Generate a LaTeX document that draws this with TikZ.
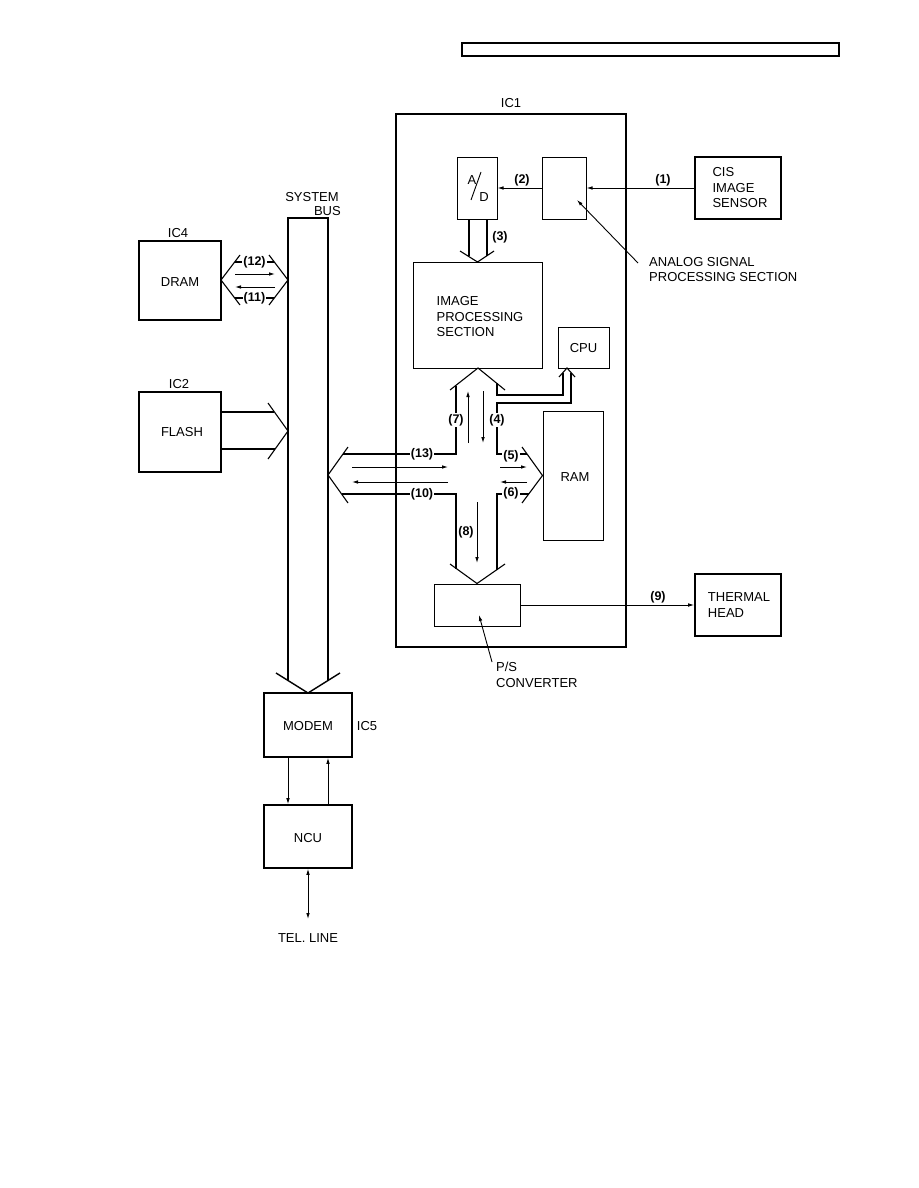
\documentclass[tikz,border=0pt]{standalone}
\usepackage{fontspec}
\setmainfont{Liberation Sans}
\usetikzlibrary{arrows.meta,calc}
\begin{document}
\begin{tikzpicture}[x=1pt,y=-1pt,
  txt/.style={font=\fontsize{13}{15.5}\selectfont, align=left, inner sep=0pt},
  outerbox/.style={draw, line width=1.6pt, minimum width=#1},
  innerbox/.style={draw, line width=1.0pt},
  busline/.style={line width=1.1pt, line join=miter},
  sig/.style={line width=0.9pt, -{Latex[length=6pt,width=3.6pt]}},
  dsig/.style={line width=0.9pt, {Latex[length=6pt,width=3.6pt]}-{Latex[length=6pt,width=3.6pt]}},
  lbl/.style={font=\bfseries\fontsize{12.5}{14}\selectfont, inner sep=1.2pt},
  wlbl/.style={lbl, fill=white}]
\useasboundingbox (0,0) rectangle (918,1188);

% header bar
\node[draw, line width=1.2pt, minimum width=377pt, minimum height=13pt, inner sep=0] (hdr) at (650.5,49.5) {};

% IC1
\node[draw, line width=1.6pt, minimum width=230pt, minimum height=533pt, inner sep=0] (ic1) at (511,380.5) {};
\node[txt] (ic1l) at (511,103) {IC1};

% inner blocks
\node[innerbox, minimum width=40pt, minimum height=62pt, inner sep=0] (ad) at (477,188) {};
\node[txt] (adA) at (472,180) {A};
\node[txt] (adD) at (484,197) {D};
\draw[line width=0.9pt] ($(ad.center)+(-6,12)$) coordinate (sl1) -- ($(ad.center)+(4,-16)$) coordinate (sl2);
\node[innerbox, minimum width=44pt, minimum height=62pt, inner sep=0] (ana) at (564,188) {};
\node[draw, line width=1.6pt, minimum width=86pt, minimum height=62pt, inner sep=0] (cis) at (738,188) {};
\node[txt] (cist) at (740,188) {CIS\\IMAGE\\SENSOR};

\node[innerbox, minimum width=129pt, minimum height=106pt, inner sep=0] (ips) at (477.5,315) {};
\node[txt] (ipst) at (480,317) {IMAGE\\PROCESSING\\SECTION};
\node[innerbox, minimum width=51pt, minimum height=41pt, inner sep=0] (cpu) at (583.5,347.5) {};
\node[txt] (cput) at (583.5,348) {CPU};
\node[innerbox, minimum width=60pt, minimum height=129pt, inner sep=0] (ram) at (573,475.5) {};
\node[txt] (ramt) at (575,477) {RAM};
\node[innerbox, minimum width=86pt, minimum height=42pt, inner sep=0] (ps) at (477,605) {};
\node[draw, line width=1.6pt, minimum width=86pt, minimum height=62pt, inner sep=0] (th) at (738,605) {};
\node[txt] (tht) at (739,605) {THERMAL\\HEAD};

% signals (1) (2) (9)
\draw[sig] (cis.west) -- (ana.east);
\node[lbl] (l1) at (663,180) {(1)};
\draw[sig] (ana.west) -- (ad.east);
\node[lbl] (l2) at (522,180) {(2)};
\draw[sig] (ps.east) -- (th.west);
\node[lbl] (l9) at (658,597) {(9)};

% analog label + pointer
\node[txt, anchor=west] (anat) at (649,269.5) {ANALOG SIGNAL\\PROCESSING SECTION};
\coordinate (anap) at (638,263);
\draw[sig] (anap) -- ($(ana.center)+(13,12)$);
% P/S label + pointer
\node[txt, anchor=west] (pst) at (496,675) {P/S\\CONVERTER};
\coordinate (psp) at (492,662);
\draw[sig] (psp) -- ($(ps.center)+(2,10)$);

% (3) bus A/D -> IPS
\draw[busline] (469,219) -- (469,256.2);
\draw[busline] (487,219) -- (487,256.2);
\draw[busline] (460,251) -- (ips.north |- 0,262) -- (494,251);
\node[lbl] (l3) at (500,237) {(3)};

% central cross bus
\draw[busline] (450,390) -- (478,368) -- (505,390);                 % up head to IPS
\draw[busline] (559,377) -- (567,368) -- (575,377);                 % up head to CPU
\draw[busline] (497,383) -- (497,395) -- (563,395) -- (563,372.5);
\draw[busline] (571,372.5) -- (571,403) -- (497,403) -- (497,454) -- (527,454);
\draw[busline] (456,385.6) -- (456,454) -- (343,454);
\draw[busline] (341.6,494) -- (456,494) -- (456,568.7);
\draw[busline] (497,569.5) -- (497,494) -- (528.7,494);
\draw[busline] (348,447) -- (328,475) -- (348,503);                 % left head to system bus
\draw[busline] (522,447) -- (ram.west) -- (522,503);                % right head to RAM
\draw[busline] (450,564) -- (ps.north) -- (505,564);                % down head to P/S

\draw[sig] (468,443) -- (468,391);
\draw[sig] (483,391) -- (483,443);
\draw[sig] (352,467) -- (448,467);
\draw[sig] (448,482) -- (352,482);
\draw[sig] (500,467) -- (527,467);
\draw[sig] (527,482) -- (500,482);
\draw[sig] (477,502) -- (477,563);

\node[wlbl] (l7) at (456,420) {(7)};
\node[wlbl] (l4) at (497,420) {(4)};
\node[wlbl] (l13) at (422,454) {(13)};
\node[wlbl] (l10) at (422,494) {(10)};
\node[wlbl] (l5) at (511,456) {(5)};
\node[wlbl] (l6) at (511,493) {(6)};
\node[lbl] (l8) at (466,532) {(8)};

% system bus
\draw[busline, line width=1.4pt] (288,680.5) -- (288,218) -- (328,218) -- (328,680.5);
\draw[busline, line width=1.4pt] (276,673) -- (308,693) -- (340,673);
\node[txt] (sysb) at (312,197) {SYSTEM};
\node[txt, anchor=east] (busb) at (341,211) {BUS};

% DRAM
\node[draw, line width=1.6pt, minimum width=82pt, minimum height=79pt, inner sep=0] (dram) at (180,280.5) {};
\node[txt] (dramt) at (180,282) {DRAM};
\node[txt] (ic4) at (178,233) {IC4};
\draw[busline] (240,255) -- (221,280) -- (240,305);
\draw[busline] (269,255) -- (288,280) -- (269,305);
\draw[busline] (234.7,262) -- (274.3,262);
\draw[busline] (234.7,298) -- (274.3,298);
\node[wlbl] (l12) at (254.5,262) {(12)};
\node[wlbl] (l11) at (254.5,298) {(11)};
\draw[sig] (235,274) -- (275,274);
\draw[sig] (275,287) -- (235,287);

% FLASH
\node[draw, line width=1.6pt, minimum width=82pt, minimum height=80pt, inner sep=0] (flash) at (180,432) {};
\node[txt] (flasht) at (182,432) {FLASH};
\node[txt] (ic2) at (179,384) {IC2};
\draw[busline] (221,412) -- (274.4,412);
\draw[busline] (221,449) -- (275.1,449);
\draw[busline] (268,403) -- (288,431) -- (268,459);

% MODEM / NCU
\node[draw, line width=1.6pt, minimum width=88pt, minimum height=64pt, inner sep=0] (modem) at (308,725) {};
\node[txt] (modemt) at (308,726) {MODEM};
\node[txt] (ic5) at (367,726) {IC5};
\node[draw, line width=1.6pt, minimum width=88pt, minimum height=63pt, inner sep=0] (ncu) at (308,836.5) {};
\node[txt] (ncut) at (308,838) {NCU};
\draw[sig] (modem.south -| 288,0) -- (ncu.north -| 288,0);
\draw[sig] (ncu.north -| 328,0) -- (modem.south -| 328,0);
\coordinate (tel) at (308,919);
\draw[dsig] (ncu.south) -- (tel);
\node[txt] (telt) at (308,938) {TEL. LINE};
\end{tikzpicture}
\end{document}
